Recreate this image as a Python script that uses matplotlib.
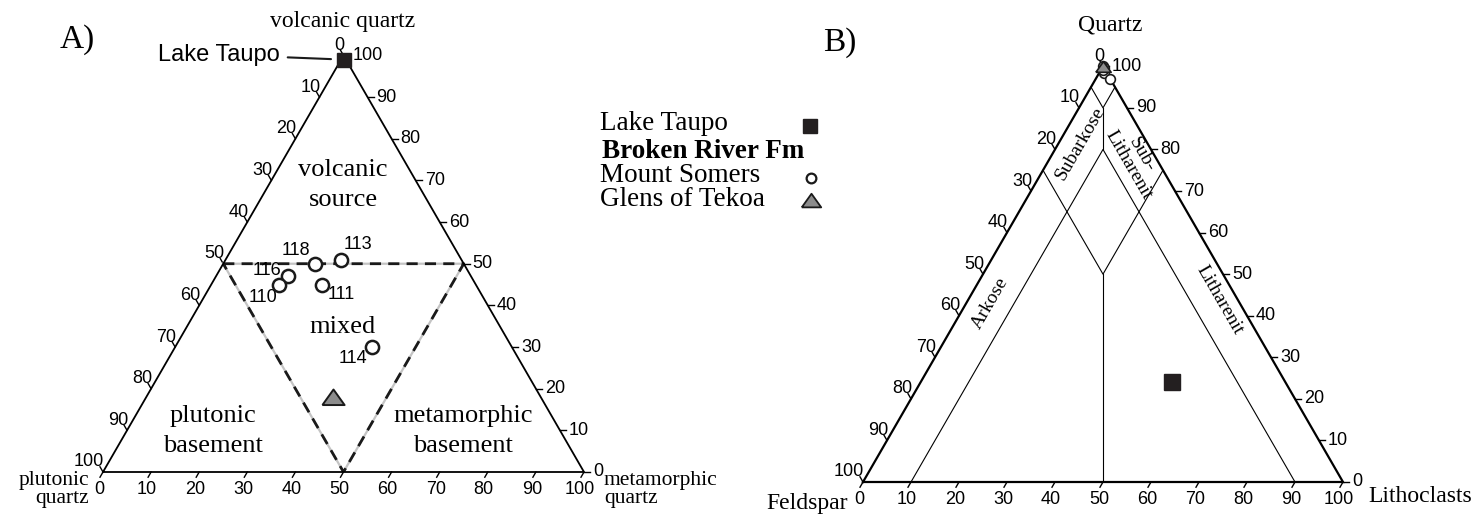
import numpy as np
import matplotlib.pyplot as plt

plt.rcParams['font.family'] = ['Liberation Serif', 'DejaVu Serif']
SANS = ['Liberation Sans', 'DejaVu Sans']

W, H = 1480, 517
R3 = np.sqrt(3) / 2

# A) volcanic / metamorphic / plutonic quartz (%)
somers_ids = ['118', '113', '116', '110', '111', '114']
somers_volc = [50, 51, 47, 45, 45, 30]
somers_meta = [19, 24, 15, 14, 23, 41]
somers_plut = [31, 25, 38, 41, 32, 29]
tekoa_volc, tekoa_meta, tekoa_plut = [17.5], [39], [43.5]
taupo_volc, taupo_meta, taupo_plut = [99], [0.5], [0.5]
# "mixed" field boundary (volc, meta, plut)
mixed_field = [(50, 0, 50), (50, 50, 0), (0, 50, 50), (50, 0, 50)]

# B) quartz / feldspar / lithoclasts (%)
somers_Q = [99, 100, 99.5, 98.5, 97, 99]
somers_F = [0.5, 0, 0, 0.5, 0, 0.5]
somers_L = [0.5, 0, 0.5, 1, 3, 0.5]
tekoa_Q, tekoa_F, tekoa_L = [99.5], [0.3], [0.2]
taupo_Q, taupo_F, taupo_L = [24], [23.6], [52.4]
# classification lines (Q, F, L)
qfl_lines = [
    [(95, 5, 0), (90, 5, 5), (95, 0, 5)],
    [(90, 5, 5), (80, 10, 10)],
    [(0, 90, 10), (80, 10, 10), (0, 10, 90)],
    [(75, 25, 0), (50, 25, 25), (75, 0, 25)],
    [(50, 25, 25), (0, 50, 50)],
]

ticks = list(range(0, 101, 10))

# label offsets (pixels) for the Mount Somers sample numbers
id_offsets = [(-19, 13), (17, 15), (-21, 6), (-16, -13), (19, -10), (-19, -11)]

# custom flat triangle marker
tri_marker = [(-1, -0.5), (1, -0.5), (0, 0.9), (-1, -0.5)]


def tern(top, right):
    # top corner and right corner fractions -> x, y in a unit triangle
    top = np.asarray(top, float) / 100
    right = np.asarray(right, float) / 100
    return right + top / 2, top * R3


def tri_axes(left, base, width, lw):
    ax = fig.add_axes([left / W, 1 - base / H, width / W, width * R3 / H])
    ax.set_xlim(0, 1)
    ax.set_ylim(0, R3)
    ax.axis('off')
    ax.plot([0, 1, 0.5, 0], [0, 0, R3, 0], color='k', lw=lw, clip_on=False,
            solid_joinstyle='miter', zorder=3)
    px = 1 / width
    for t in ticks:
        f = t / 100
        # bottom axis, ticks pointing down-left
        ax.plot([f, f - 3 * px], [0, -5.2 * px], color='k', lw=1, clip_on=False)
        ax.text(f - 4 * px, -17 * px, str(t), ha='center', va='center',
                family=SANS, fontsize=13)
        # left axis, 0 at the top
        x0, y0 = (1 - f) / 2, (1 - f) * R3
        ax.plot([x0, x0 - 3 * px], [y0, y0 + 5.2 * px], color='k', lw=1, clip_on=False)
        ax.text(x0 + 1 * px, y0 + 10 * px, str(t), ha='right', va='center',
                family=SANS, fontsize=13)
        # right axis, 0 at the bottom
        x0, y0 = 1 - f / 2, f * R3
        ax.plot([x0, x0 + 6 * px], [y0, y0], color='k', lw=1, clip_on=False)
        ax.text(x0 + 9 * px, y0, str(t), ha='left', va='center',
                family=SANS, fontsize=13)
    return ax


fig = plt.figure(figsize=(W / 100, H / 100), dpi=100)

# ---------------- A)
axA = tri_axes(103, 472, 481, 1.3)
fx, fy = tern([p[0] for p in mixed_field], [p[1] for p in mixed_field])
axA.plot(fx, fy, color='#c4c4c4', lw=1.6, zorder=2)
axA.plot(fx, fy, color='#1a1a1a', lw=2, linestyle=(0, (4, 2.6)), zorder=2)

x, y = tern(somers_volc, somers_meta)
axA.plot(x, y, 'o', ms=9.5, mfc='white', mec='#1a1a1a', mew=1.8, zorder=5)
for i, s in enumerate(somers_ids):
    axA.annotate(s, (x[i], y[i]), xytext=id_offsets[i], textcoords='offset pixels',
                 ha='center', va='center', family=SANS, fontsize=13, zorder=4)

x, y = tern(tekoa_volc, tekoa_meta)
axA.plot(x, y, marker=tri_marker, ms=16, mfc='#8c8c8c', mec='#1a1a1a', mew=1.4,
         ls='none', zorder=5)

x, y = tern(taupo_volc, taupo_meta)
axA.plot(x, y, 's', ms=10, color='#231f20', zorder=5, clip_on=False)
axA.annotate('Lake Taupo', (x[0], y[0]), xytext=(-125, 5), textcoords='offset pixels',
             ha='center', va='center', family=SANS, fontsize=17,
             arrowprops=dict(arrowstyle='-', lw=1.5, color='#1a1a1a',
                             shrinkA=4, shrinkB=9))

# ---------------- B)
axB = tri_axes(863, 482, 480, 1.6)
for seg in qfl_lines:
    lx, ly = tern([p[0] for p in seg], [p[2] for p in seg])
    axB.plot(lx, ly, color='k', lw=0.8, zorder=2)

x, y = tern(somers_Q, somers_L)
axB.plot(x, y, 'o', ms=7, mfc='white', mec='#1a1a1a', mew=1.2, zorder=5, clip_on=False)
x, y = tern(tekoa_Q, tekoa_L)
axB.plot(x, y, marker=tri_marker, ms=11, mfc='#8c8c8c', mec='#1a1a1a', mew=1.2,
         ls='none', zorder=6, clip_on=False)
x, y = tern(taupo_Q, taupo_L)
axB.plot(x, y, 's', ms=11.5, color='#231f20', zorder=5)

# ---------------- labels and legend (pixel overlay)
ov = fig.add_axes([0, 0, 1, 1])
ov.set_xlim(0, W)
ov.set_ylim(H, 0)
ov.axis('off')

ov.text(77, 40, 'A)', fontsize=24, ha='center', va='center')
ov.text(840, 43, 'B)', fontsize=24, ha='center', va='center')

ov.text(343, 22, 'volcanic quartz', fontsize=17, ha='center', va='center')
ov.text(89, 481, 'plutonic', fontsize=15.5, ha='right', va='center')
ov.text(89, 499, 'quartz', fontsize=15.5, ha='right', va='center')
ov.text(604, 481, 'metamorphic', fontsize=15.5, ha='left', va='center')
ov.text(604, 499, 'quartz', fontsize=15.5, ha='left', va='center')

ov.text(343, 170, 'volcanic', fontsize=19, ha='center', va='center')
ov.text(343, 200, 'source', fontsize=19, ha='center', va='center')
ov.text(343, 327, 'mixed', fontsize=19, ha='center', va='center')
ov.text(213, 416, 'plutonic', fontsize=19, ha='center', va='center')
ov.text(213, 446, 'basement', fontsize=19, ha='center', va='center')
ov.text(463, 416, 'metamorphic', fontsize=19, ha='center', va='center')
ov.text(463, 446, 'basement', fontsize=19, ha='center', va='center')

ov.text(1110, 25, 'Quartz', fontsize=17, ha='center', va='center')
ov.text(848, 503, 'Feldspar', fontsize=17, ha='right', va='center')
ov.text(1368, 497, 'Lithoclasts', fontsize=17, ha='left', va='center')

rot = dict(ha='center', va='center', rotation_mode='anchor', fontsize=14)
ov.text(1080, 143, 'Subarkose', rotation=60, **rot)
ov.text(1142, 155, 'Sub-', rotation=-60, **rot)
ov.text(1129, 165, 'Litharenit', rotation=-60, **rot)
ov.text(990, 303, 'Arkose', rotation=60, **rot)
ov.text(1220, 300, 'Litharenit', rotation=-60, **rot)

# legend
ov.text(600, 124, 'Lake Taupo', fontsize=19.5, va='center')
ov.text(602, 152, 'Broken River Fm', fontsize=19.5, va='center', weight='bold')
ov.text(600, 176, 'Mount Somers', fontsize=19.5, va='center')
ov.text(600, 200, 'Glens of Tekoa', fontsize=19.5, va='center')
ov.plot([810], [126], 's', ms=9.5, color='#231f20')
ov.plot([811], [178], 'o', ms=7, mfc='white', mec='#1a1a1a', mew=1.6)
ov.plot([811], [202], marker=tri_marker, ms=14, mfc='#8c8c8c', mec='#1a1a1a', mew=1.3)

fig.savefig('out.png', dpi=100)
